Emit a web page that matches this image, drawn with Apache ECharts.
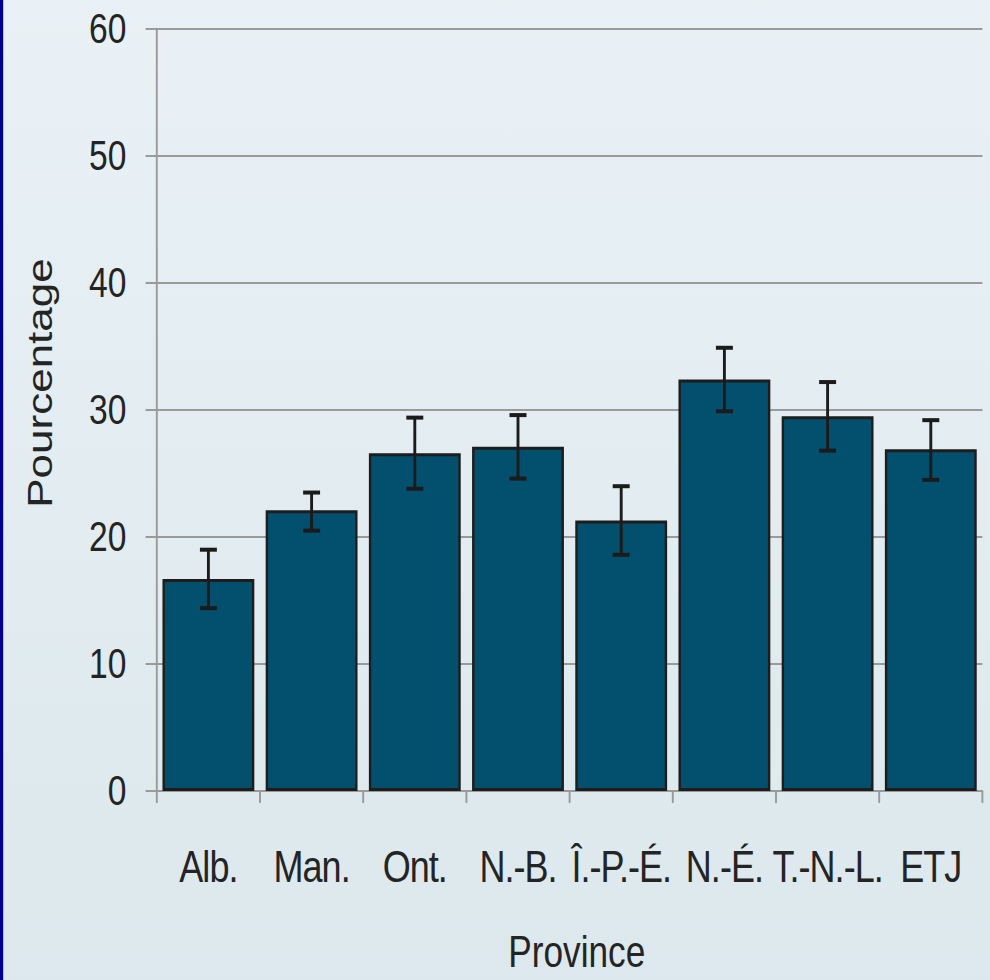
<!DOCTYPE html>
<html>
<head>
<meta charset="utf-8">
<title>Pourcentage par province</title>
<script src="https://cdn.jsdelivr.net/npm/echarts@6/dist/echarts.min.js"></script>
<style>
  html, body { margin: 0; padding: 0; overflow: hidden; width: 990px; height: 980px; }
  /* the chart is laid out wide and squeezed horizontally, giving the narrow lettering */
  #chart { width: 1238px; height: 980px; transform: scaleX(0.8); transform-origin: 0 0; }
  /* category labels (45px) are set a little tighter */
  #chart text[style*="45px"] { letter-spacing: -1.2px; }
</style>
</head>
<body>
<div id="chart"></div>
<script>
// Provinces and the percentage for each, with the lower and upper error limits
const categories = ['Alb.', 'Man.', 'Ont.', 'N.-B.', 'Î.-P.-É.', 'N.-É.', 'T.-N.-L.', 'ETJ'];
const values     = [16.7, 22.1, 26.6, 27.1, 21.3, 32.4, 29.5, 26.9];
const errLow     = [14.4, 20.5, 23.8, 24.6, 18.6, 29.9, 26.8, 24.5];
const errHigh    = [19.0, 23.5, 29.4, 29.6, 24.0, 34.9, 32.2, 29.2];
const yTicks     = [0, 10, 20, 30, 40, 50, 60];

const sans = "'Liberation Sans', Arial, Helvetica, sans-serif";
const textColor = '#242424';
const gridGray = '#9a9a9a';

const errorData = categories.map((c, i) => [i, errLow[i], errHigh[i]]);

const chart = echarts.init(document.getElementById('chart'), null, { renderer: 'svg' });

chart.setOption({
  animation: false,
  backgroundColor: {
    type: 'linear', x: 0, y: 0, x2: 0, y2: 1,
    colorStops: [
      { offset: 0, color: '#e9f1f5' },
      { offset: 1, color: '#dce8ed' }
    ]
  },
  graphic: [{
    type: 'rect',
    left: 0, top: 0,
    shape: { width: 4, height: 980 },
    style: { fill: '#00008c' },
    silent: true
  }],
  grid: { left: 196, right: 10, top: 29, bottom: 189, containLabel: false },
  xAxis: {
    type: 'category',
    data: categories,
    name: 'Province',
    nameLocation: 'middle',
    nameGap: 139,
    nameTextStyle: { fontFamily: sans, fontSize: 44, color: textColor, padding: [0, 0, 0, 18] },
    axisLine: { show: true, lineStyle: { color: gridGray, width: 2 } },
    axisTick: { show: true, alignWithLabel: false, length: 12, lineStyle: { color: gridGray, width: 2.4 } },
    axisLabel: { fontFamily: sans, fontSize: 45, color: textColor, margin: 53, interval: 0 },
    splitLine: { show: false }
  },
  yAxis: {
    type: 'value',
    min: yTicks[0],
    max: yTicks[yTicks.length - 1],
    interval: 10,
    name: 'Pourcentage',
    nameLocation: 'middle',
    nameRotate: 90,
    nameGap: 125,
    nameTextStyle: { fontFamily: sans, fontSize: 44, color: textColor, padding: [0, 0, 0, 54] },
    axisLine: { show: true, lineStyle: { color: gridGray, width: 2.4 } },
    axisTick: { show: true, length: 14, lineStyle: { color: gridGray, width: 2 } },
    axisLabel: { fontFamily: sans, fontSize: 42, color: textColor, margin: 38 },
    splitLine: { show: true, lineStyle: { color: gridGray, width: 2 } }
  },
  series: [
    {
      type: 'bar',
      data: values,
      barCategoryGap: '11%',
      itemStyle: { color: '#034f6e', borderColor: '#1d1d1d', borderWidth: 3 },
      z: 2
    },
    {
      type: 'custom',
      data: errorData,
      encode: { x: 0, y: [1, 2] },
      z: 5,
      renderItem: function (params, api) {
        const i = api.value(0);
        const lo = api.coord([i, api.value(1)]);
        const hi = api.coord([i, api.value(2)]);
        const half = 10.6;
        const stem = { stroke: '#1b1b1b', lineWidth: 3.6 };
        const cap = { stroke: '#1b1b1b', lineWidth: 4 };
        return {
          type: 'group',
          children: [
            { type: 'line', shape: { x1: hi[0], y1: hi[1], x2: lo[0], y2: lo[1] }, style: stem },
            { type: 'line', shape: { x1: hi[0] - half, y1: hi[1], x2: hi[0] + half, y2: hi[1] }, style: cap },
            { type: 'line', shape: { x1: lo[0] - half, y1: lo[1], x2: lo[0] + half, y2: lo[1] }, style: cap }
          ]
        };
      }
    }
  ]
});
</script>
</body>
</html>
